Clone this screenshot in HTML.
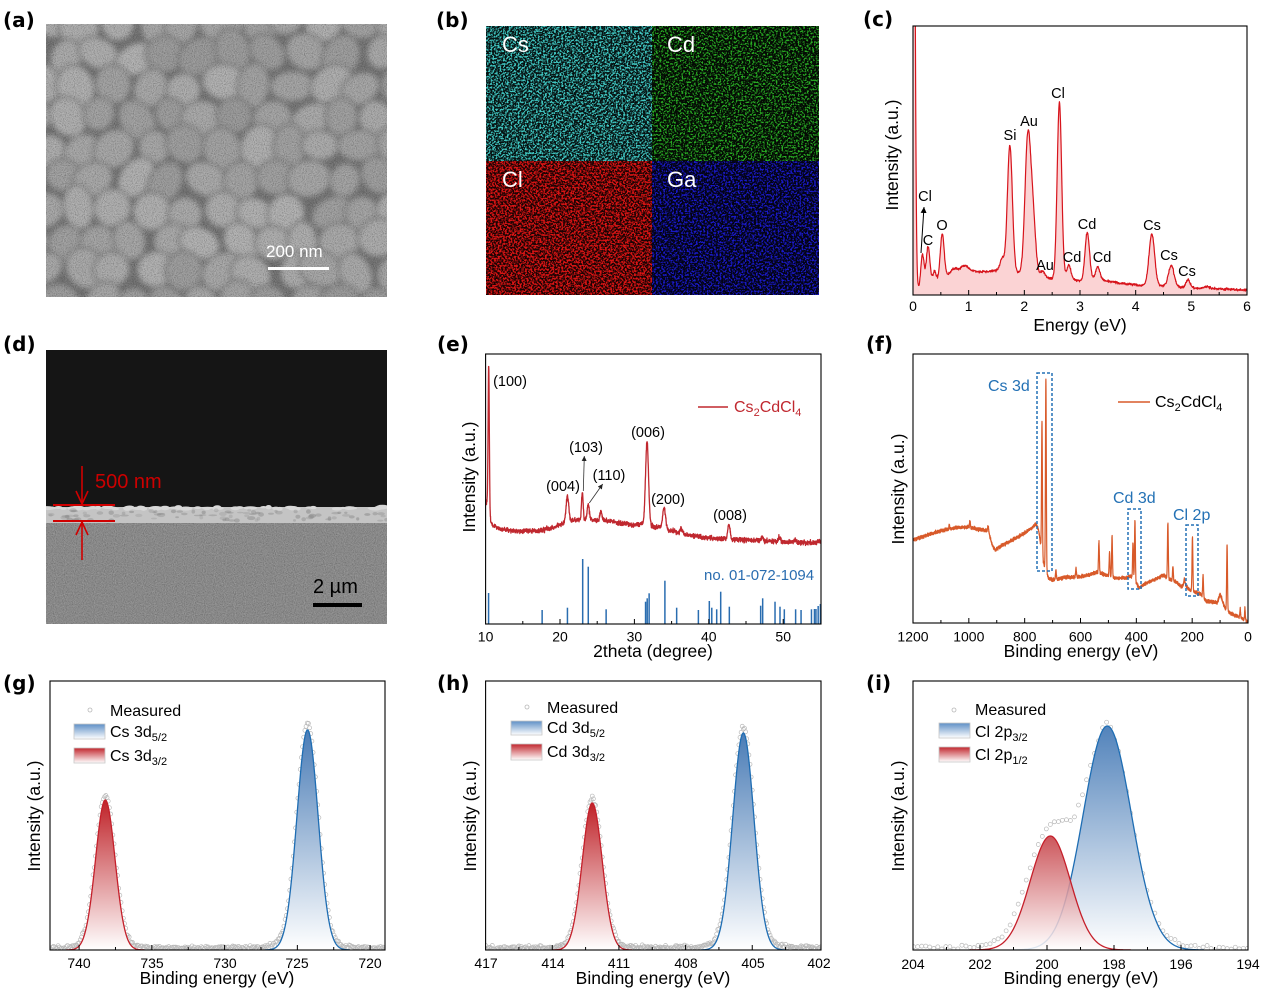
<!DOCTYPE html>
<html><head><meta charset="utf-8"><title>Cs2CdCl4 characterization</title>
<style>
html,body{margin:0;padding:0;background:#fff;width:1268px;height:994px;overflow:hidden}
svg{display:block}
text{font-family:"Liberation Sans",Arial,sans-serif;fill:#000}
.pl{font-family:"DejaVu Sans","Liberation Sans",sans-serif;font-weight:bold;font-size:20px}
.tk{font-size:14px;text-anchor:middle}
.al{font-size:17.5px;text-anchor:middle}
.pk{font-size:14.5px;text-anchor:middle}
.lg{font-size:16px}
</style></head><body>
<svg id="S" xmlns="http://www.w3.org/2000/svg" width="1268" height="994" viewBox="0 0 1268 994">
<defs>
<clipPath id="cA"><rect x="46" y="24" width="341" height="273"/></clipPath>
<clipPath id="cD"><rect x="46" y="350" width="341" height="274"/></clipPath>
<clipPath id="cC"><rect x="913" y="26" width="334" height="269"/></clipPath>
<clipPath id="cE"><rect x="485.6" y="354" width="335.4" height="270"/></clipPath>
<clipPath id="cF"><rect x="913" y="354" width="335" height="269"/></clipPath>
<clipPath id="cG"><rect x="50" y="681" width="335" height="269"/></clipPath>
<clipPath id="cH"><rect x="485.6" y="681" width="335.4" height="269"/></clipPath>
<clipPath id="cI"><rect x="913" y="681" width="335" height="269"/></clipPath>
<filter id="bl" x="-5%" y="-5%" width="110%" height="110%"><feGaussianBlur stdDeviation="2.6"/></filter>
<filter id="nz" x="0" y="0" width="1" height="1" color-interpolation-filters="sRGB"><feTurbulence type="fractalNoise" baseFrequency="0.9" numOctaves="1" seed="4"/><feColorMatrix type="matrix" values="0 0 0 0 0.1  0 0 0 0 0.1  0 0 0 0 0.1  3 0 0 0 -1.3"/></filter>
<filter id="nzw" x="0" y="0" width="1" height="1" color-interpolation-filters="sRGB"><feTurbulence type="fractalNoise" baseFrequency="0.9" numOctaves="1" seed="9"/><feColorMatrix type="matrix" values="0 0 0 0 0.95  0 0 0 0 0.95  0 0 0 0 0.95  3 0 0 0 -1.35"/></filter>
<filter id="sCs" x="0" y="0" width="1" height="1" color-interpolation-filters="sRGB"><feTurbulence type="fractalNoise" baseFrequency="0.55" numOctaves="2" seed="2"/><feColorMatrix type="matrix" values="0 0 0 0 0.25  0 0 0 0 0.78  0 0 0 0 0.76  6 0 0 0 -2.75"/></filter>
<filter id="sCd" x="0" y="0" width="1" height="1" color-interpolation-filters="sRGB"><feTurbulence type="fractalNoise" baseFrequency="0.55" numOctaves="2" seed="5"/><feColorMatrix type="matrix" values="0 0 0 0 0.16  0 0 0 0 0.68  0 0 0 0 0.14  6 0 0 0 -2.95"/></filter>
<filter id="sCl" x="0" y="0" width="1" height="1" color-interpolation-filters="sRGB"><feTurbulence type="fractalNoise" baseFrequency="0.55" numOctaves="2" seed="7"/><feColorMatrix type="matrix" values="0 0 0 0 0.86  0 0 0 0 0.08  0 0 0 0 0.08  6 0 0 0 -2.62"/></filter>
<filter id="sGa" x="0" y="0" width="1" height="1" color-interpolation-filters="sRGB"><feTurbulence type="fractalNoise" baseFrequency="0.55" numOctaves="2" seed="8"/><feColorMatrix type="matrix" values="0 0 0 0 0.1  0 0 0 0 0.1  0 0 0 0 0.8  6 0 0 0 -2.85"/></filter>
<linearGradient id="gB" gradientUnits="userSpaceOnUse" x1="0" y1="730" x2="0" y2="950"><stop offset="0" stop-color="#4a7cb6"/><stop offset="1" stop-color="#ffffff"/></linearGradient>
<linearGradient id="gR" gradientUnits="userSpaceOnUse" x1="0" y1="800" x2="0" y2="950"><stop offset="0" stop-color="#bf2228"/><stop offset="1" stop-color="#ffffff"/></linearGradient>
<linearGradient id="hB" gradientUnits="userSpaceOnUse" x1="0" y1="733" x2="0" y2="950"><stop offset="0" stop-color="#4a7cb6"/><stop offset="1" stop-color="#ffffff"/></linearGradient>
<linearGradient id="hR" gradientUnits="userSpaceOnUse" x1="0" y1="803" x2="0" y2="950"><stop offset="0" stop-color="#bf2228"/><stop offset="1" stop-color="#ffffff"/></linearGradient>
<linearGradient id="iB" gradientUnits="userSpaceOnUse" x1="0" y1="726" x2="0" y2="950"><stop offset="0" stop-color="#5283bb"/><stop offset="1" stop-color="#ffffff"/></linearGradient>
<linearGradient id="iR" gradientUnits="userSpaceOnUse" x1="0" y1="836" x2="0" y2="950"><stop offset="0" stop-color="#c3383e"/><stop offset="1" stop-color="#ffffff"/></linearGradient>
<linearGradient id="sB" x1="0" y1="0" x2="0" y2="1"><stop offset="0" stop-color="#5e8fc6"/><stop offset="1" stop-color="#ffffff"/></linearGradient>
<linearGradient id="sR" x1="0" y1="0" x2="0" y2="1"><stop offset="0" stop-color="#c1262d"/><stop offset="1" stop-color="#ffffff"/></linearGradient>
<marker id="ah" viewBox="0 0 6 6" refX="6" refY="3" markerWidth="5" markerHeight="5" orient="auto" markerUnits="userSpaceOnUse"><path d="M0,0L6,3L0,6Z" fill="#222"/></marker>
<marker id="ah2" viewBox="0 0 6 6" refX="6" refY="3" markerWidth="6" markerHeight="6" orient="auto" markerUnits="userSpaceOnUse"><path d="M0,0L6,3L0,6Z" fill="#000"/></marker>
</defs>

<!-- (a) SEM top view -->
<g clip-path="url(#cA)">
<rect x="46" y="24" width="341" height="273" fill="#6e6e6e"/>
<g id="semA" filter="url(#bl)"></g>
<rect x="46" y="24" width="341" height="273" filter="url(#nz)" opacity="0.28"/>
<rect x="46" y="24" width="341" height="273" filter="url(#nzw)" opacity="0.16"/>
</g>
<text x="266" y="257" font-size="17" style="fill:#fff">200 nm</text>
<rect x="268" y="267" width="61" height="3" fill="#fff"/>

<!-- (b) EDS maps -->
<rect x="486" y="26" width="166" height="135" fill="#061212"/>
<rect x="486" y="26" width="166" height="135" filter="url(#sCs)"/>
<rect x="652" y="26" width="167" height="135" fill="#040a04"/>
<rect x="652" y="26" width="167" height="135" filter="url(#sCd)"/>
<rect x="486" y="161" width="166" height="134" fill="#1a0303"/>
<rect x="486" y="161" width="166" height="134" filter="url(#sCl)"/>
<rect x="652" y="161" width="167" height="134" fill="#030314"/>
<rect x="652" y="161" width="167" height="134" filter="url(#sGa)"/>
<text x="502" y="52" font-size="22" style="fill:#fff">Cs</text>
<text x="667" y="52" font-size="22" style="fill:#fff">Cd</text>
<text x="502" y="187" font-size="22" style="fill:#fff">Cl</text>
<text x="667" y="187" font-size="22" style="fill:#fff">Ga</text>

<!-- (d) cross-section -->
<g clip-path="url(#cD)">
<rect x="46" y="350" width="341" height="158" fill="#151515"/>
<rect x="46" y="520" width="341" height="104" fill="#8a8a8a"/>
<rect x="46" y="520" width="341" height="104" filter="url(#nz)" opacity="0.22"/>
<rect x="46" y="520" width="341" height="104" filter="url(#nzw)" opacity="0.18"/>
<rect x="46" y="507" width="341" height="16" fill="#c4c4c4"/>
<g id="filmD"></g>
</g>
<line x1="53" y1="505" x2="115" y2="505" stroke="#d00000" stroke-width="2"/>
<line x1="53" y1="521" x2="115" y2="521" stroke="#d00000" stroke-width="2"/>
<line x1="82" y1="466" x2="82" y2="504" stroke="#d00000" stroke-width="1.6"/>
<polyline points="76,491 82,504 88,491" fill="none" stroke="#d00000" stroke-width="1.6"/>
<line x1="82" y1="522" x2="82" y2="560" stroke="#d00000" stroke-width="1.6"/>
<polyline points="76,535 82,522 88,535" fill="none" stroke="#d00000" stroke-width="1.6"/>
<text x="95" y="488" font-size="20" style="fill:#cc0000">500 nm</text>
<text x="313" y="593" font-size="20">2 µm</text>
<rect x="313" y="603" width="49" height="4" fill="#000"/>

<!-- plot contents -->
<g clip-path="url(#cC)"><g id="pC"></g></g>
<g clip-path="url(#cE)"><g id="pE"></g></g>
<g clip-path="url(#cF)"><g id="pF"></g></g>
<g clip-path="url(#cG)"><g id="pG"></g></g>
<g clip-path="url(#cH)"><g id="pH"></g></g>
<g clip-path="url(#cI)"><g id="pI"></g></g>

<!-- axes frames -->
<g fill="none" stroke="#000" stroke-width="1.1">
<rect x="913" y="26" width="334" height="269"/>
<rect x="485.6" y="354" width="335.4" height="270"/>
<rect x="913" y="354" width="335" height="269"/>
<rect x="50" y="681" width="335" height="269"/>
<rect x="485.6" y="681" width="335.4" height="269"/>
<rect x="913" y="681" width="335" height="269"/>
</g>
<g id="ticks"></g>

<!-- panel labels -->
<text class="pl" x="3" y="27">(a)</text>
<text class="pl" x="436" y="27">(b)</text>
<text class="pl" x="863" y="26">(c)</text>
<text class="pl" x="3" y="351">(d)</text>
<text class="pl" x="437" y="351">(e)</text>
<text class="pl" x="866" y="351">(f)</text>
<text class="pl" x="3" y="690">(g)</text>
<text class="pl" x="437" y="690">(h)</text>
<text class="pl" x="866" y="690">(i)</text>

<!-- (c) text -->
<text class="tk" x="913" y="311">0</text>
<text class="tk" x="968.7" y="311">1</text>
<text class="tk" x="1024.3" y="311">2</text>
<text class="tk" x="1080" y="311">3</text>
<text class="tk" x="1135.7" y="311">4</text>
<text class="tk" x="1191.3" y="311">5</text>
<text class="tk" x="1247" y="311">6</text>
<text class="al" x="1080" y="331">Energy (eV)</text>
<text class="al" transform="translate(898,155) rotate(-90)">Intensity (a.u.)</text>
<text class="pk" x="1058" y="98">Cl</text>
<text class="pk" x="1029" y="126">Au</text>
<text class="pk" x="1010" y="140">Si</text>
<text class="pk" x="925" y="201">Cl</text>
<text class="pk" x="928" y="245">C</text>
<text class="pk" x="942" y="230">O</text>
<text class="pk" x="1045" y="270">Au</text>
<text class="pk" x="1072" y="262">Cd</text>
<text class="pk" x="1087" y="229">Cd</text>
<text class="pk" x="1102" y="262">Cd</text>
<text class="pk" x="1152" y="230">Cs</text>
<text class="pk" x="1169" y="260">Cs</text>
<text class="pk" x="1187" y="276">Cs</text>
<line x1="921" y1="253" x2="924" y2="207" stroke="#000" stroke-width="1" marker-end="url(#ah2)"/>

<!-- (e) text -->
<text class="tk" x="485.6" y="641.5">10</text>
<text class="tk" x="560" y="641.5">20</text>
<text class="tk" x="634.4" y="641.5">30</text>
<text class="tk" x="708.8" y="641.5">40</text>
<text class="tk" x="783.2" y="641.5">50</text>
<text class="al" x="653" y="657">2theta (degree)</text>
<text class="al" transform="translate(475,477) rotate(-90)">Intensity (a.u.)</text>
<text class="pk" x="510" y="386">(100)</text>
<text class="pk" x="563" y="491">(004)</text>
<text class="pk" x="586" y="452">(103)</text>
<text class="pk" x="609" y="480">(110)</text>
<text class="pk" x="648" y="437">(006)</text>
<text class="pk" x="668" y="504">(200)</text>
<text class="pk" x="730" y="520">(008)</text>
<line x1="583.3" y1="491" x2="584.3" y2="456" stroke="#333" stroke-width="0.8" marker-end="url(#ah)"/>
<line x1="589.3" y1="503" x2="602.7" y2="484" stroke="#333" stroke-width="0.8" marker-end="url(#ah)"/>
<line x1="698" y1="407" x2="728" y2="407" stroke="#c0282f" stroke-width="1.5"/>
<text x="734" y="412" font-size="16" style="fill:#c0282f">Cs<tspan font-size="11" dy="4">2</tspan><tspan dy="-4">CdCl</tspan><tspan font-size="11" dy="4">4</tspan></text>
<text x="704" y="580" font-size="15" style="fill:#2a6db0">no. 01-072-1094</text>

<!-- (f) text -->
<text class="tk" x="913" y="641.5">1200</text>
<text class="tk" x="968.8" y="641.5">1000</text>
<text class="tk" x="1024.7" y="641.5">800</text>
<text class="tk" x="1080.5" y="641.5">600</text>
<text class="tk" x="1136.3" y="641.5">400</text>
<text class="tk" x="1192.2" y="641.5">200</text>
<text class="tk" x="1248" y="641.5">0</text>
<text class="al" x="1081" y="657">Binding energy (eV)</text>
<text class="al" transform="translate(904,489) rotate(-90)">Intensity (a.u.)</text>
<g fill="none" stroke="#2371b5" stroke-width="1.5" stroke-dasharray="3,2">
<rect x="1037" y="373" width="15" height="198"/>
<rect x="1128" y="509" width="13" height="80"/>
<rect x="1186" y="525" width="12" height="71"/>
</g>
<text x="988" y="391" font-size="16" style="fill:#2371b5">Cs 3d</text>
<text x="1113" y="503" font-size="16" style="fill:#2371b5">Cd 3d</text>
<text x="1173" y="520" font-size="16" style="fill:#2371b5">Cl 2p</text>
<line x1="1118" y1="402" x2="1150" y2="402" stroke="#d85a2a" stroke-width="1.5"/>
<text x="1155" y="407" font-size="16">Cs<tspan font-size="11" dy="4">2</tspan><tspan dy="-4">CdCl</tspan><tspan font-size="11" dy="4">4</tspan></text>

<!-- (g) text -->
<text class="tk" x="79" y="968">740</text>
<text class="tk" x="152" y="968">735</text>
<text class="tk" x="225" y="968">730</text>
<text class="tk" x="297" y="968">725</text>
<text class="tk" x="370" y="968">720</text>
<text class="al" x="217" y="984">Binding energy (eV)</text>
<text class="al" transform="translate(40,816) rotate(-90)">Intensity (a.u.)</text>
<circle cx="90" cy="710" r="2" fill="none" stroke="#b8b8b8" stroke-width="0.8"/>
<text class="lg" x="110" y="716">Measured</text>
<rect x="74" y="724" width="31" height="15" fill="url(#sB)" stroke="#c8c8c8" stroke-width="0.8"/>
<text class="lg" x="110" y="737">Cs 3d<tspan font-size="11" dy="4">5/2</tspan></text>
<rect x="74" y="748" width="31" height="15" fill="url(#sR)" stroke="#c8c8c8" stroke-width="0.8"/>
<text class="lg" x="110" y="761">Cs 3d<tspan font-size="11" dy="4">3/2</tspan></text>

<!-- (h) text -->
<text class="tk" x="486" y="968">417</text>
<text class="tk" x="553" y="968">414</text>
<text class="tk" x="619" y="968">411</text>
<text class="tk" x="686" y="968">408</text>
<text class="tk" x="753" y="968">405</text>
<text class="tk" x="819" y="968">402</text>
<text class="al" x="653" y="984">Binding energy (eV)</text>
<text class="al" transform="translate(476,816) rotate(-90)">Intensity (a.u.)</text>
<circle cx="527" cy="707" r="2" fill="none" stroke="#b8b8b8" stroke-width="0.8"/>
<text class="lg" x="547" y="713">Measured</text>
<rect x="511" y="721" width="31" height="14" fill="url(#sB)" stroke="#c8c8c8" stroke-width="0.8"/>
<text class="lg" x="547" y="733">Cd 3d<tspan font-size="11" dy="4">5/2</tspan></text>
<rect x="511" y="744" width="31" height="16" fill="url(#sR)" stroke="#c8c8c8" stroke-width="0.8"/>
<text class="lg" x="547" y="757">Cd 3d<tspan font-size="11" dy="4">3/2</tspan></text>

<!-- (i) text -->
<text class="tk" x="913" y="969">204</text>
<text class="tk" x="980" y="969">202</text>
<text class="tk" x="1047" y="969">200</text>
<text class="tk" x="1114" y="969">198</text>
<text class="tk" x="1181" y="969">196</text>
<text class="tk" x="1248" y="969">194</text>
<text class="al" x="1081" y="984">Binding energy (eV)</text>
<text class="al" transform="translate(904,816) rotate(-90)">Intensity (a.u.)</text>
<circle cx="954" cy="710" r="2" fill="none" stroke="#b8b8b8" stroke-width="0.8"/>
<text class="lg" x="975" y="715">Measured</text>
<rect x="939" y="723" width="31" height="15" fill="url(#sB)" stroke="#c8c8c8" stroke-width="0.8"/>
<text class="lg" x="975" y="737">Cl 2p<tspan font-size="11" dy="4">3/2</tspan></text>
<rect x="939" y="747" width="31" height="15" fill="url(#sR)" stroke="#c8c8c8" stroke-width="0.8"/>
<text class="lg" x="975" y="760">Cl 2p<tspan font-size="11" dy="4">1/2</tspan></text>
</svg>

<script>
(function(){
var NS='http://www.w3.org/2000/svg';
function el(p,tag,a){var e=document.createElementNS(NS,tag);for(var k in a)e.setAttribute(k,a[k]);p.appendChild(e);return e;}
function G(id){return document.getElementById(id);}
function rng(seed){var s=seed>>>0;return function(){s=(Math.imul(s,1664525)+1013904223)>>>0;return s/4294967296;};}
function nrm(r){return (r()+r()+r()+r()-2)*1.732;}
function interp(pts,x){if(x<=pts[0][0])return pts[0][1];for(var i=1;i<pts.length;i++){if(x<=pts[i][0]){var a=pts[i-1],b=pts[i];return a[1]+(b[1]-a[1])*(x-a[0])/(b[0]-a[0]);}}return pts[pts.length-1][1];}
function gsum(pk,x){var s=0;for(var i=0;i<pk.length;i++){var p=pk[i];var d=(x-p[0])/p[2];if(Math.abs(d)<8)s+=p[1]*Math.exp(-0.5*d*d);}return s;}

/* SEM grains */
(function(){var g=G('semA'),r=rng(11);
for(var row=-1;row<10;row++)for(var col=-1;col<11;col++){
 var cx=46+col*35+(row&1)*17+(r()-0.5)*12, cy=24+row*31+(r()-0.5)*9;
 var rx=17+r()*6, ry=15+r()*4.5, v=Math.round(150+r()*26);
 el(g,'ellipse',{cx:cx.toFixed(1),cy:cy.toFixed(1),rx:rx.toFixed(1),ry:ry.toFixed(1),transform:'rotate('+(r()*180).toFixed(0)+' '+cx.toFixed(1)+' '+cy.toFixed(1)+')',fill:'rgb('+v+','+v+','+v+')',stroke:'#767676','stroke-width':2.5});
}})();

/* film */
(function(){var g=G('filmD'),r=rng(5);
for(var i=0;i<60;i++){el(g,'ellipse',{cx:(46+r()*341).toFixed(1),cy:(507+r()*2).toFixed(1),rx:(3+r()*4).toFixed(1),ry:(1+r()*1.5).toFixed(1),fill:'#d8d8d8'});}
for(var j=0;j<90;j++){el(g,'ellipse',{cx:(46+r()*341).toFixed(1),cy:(510+r()*11).toFixed(1),rx:(1.5+r()*3).toFixed(1),ry:(0.8+r()*1.4).toFixed(1),fill:'#888888',opacity:(0.25+r()*0.3).toFixed(2)});}
})();

/* (c) EDS */
(function(){var g=G('pC'),r=rng(21);var X=function(e){return 913+e*55.67;};
var base=[[0,280],[0.1,288],[0.3,278],[0.45,280],[0.6,276],[0.8,271],[1.0,270],[1.2,272],[1.4,271],[1.55,270],[1.7,272],[1.9,273],[2.2,276],[2.5,279],[2.8,278],[3.0,281],[3.3,279],[3.5,281],[3.7,283],[4.0,285],[4.5,286],[5.0,288],[5.5,289],[6.0,290]];
var pk=[[0.01,600,0.025],[0.17,30,0.028],[0.27,33,0.03],[0.39,8,0.025],[0.525,44,0.035],[0.73,4,0.05],[0.92,5,0.06],[1.6,12,0.035],[1.74,127,0.045],[2.06,131,0.05],[2.15,60,0.05],[2.33,6,0.04],[2.63,176,0.04],[2.8,13,0.035],[3.13,48,0.04],[3.32,12,0.04],[4.29,52,0.05],[4.64,21,0.05],[4.94,8,0.04],[5.28,2,0.05]];
var d='';for(var i=0;i<=1200;i++){var e=i*0.005;var y=interp(base,e)-gsum(pk,e)+nrm(r)*0.6;if(y<0)y=0;d+=(i?'L':'M')+X(e).toFixed(2)+','+y.toFixed(2);}
el(g,'path',{d:d+'L1247,296L913,296Z',fill:'#fbd3d4',stroke:'none'});
el(g,'path',{d:d,fill:'none',stroke:'#d7141c','stroke-width':1.2,'stroke-linejoin':'round'});
})();

/* (e) XRD */
(function(){var g=G('pE'),r=rng(33);var X=function(t){return 485.6+(t-10)*7.44;};
var base=[[10,500],[10.3,505],[10.7,522],[11,526],[12,529],[14,531],[17,531],[19,528],[20.5,523],[22,520],[26,520],[28,523],[30,525],[31,524],[33,527],[35,531],[37,535],[40,538],[45,540],[50,542],[54,543],[55,541]];
var pk=[[10.42,145,0.08],[21,26,0.18],[23,28,0.11],[23.8,16,0.14],[25.5,9,0.12],[31.7,84,0.2],[34,21,0.2],[36.3,5,0.15],[42.7,15,0.15],[47.2,4,0.15],[49.5,5,0.15],[51.6,3,0.15]];
var d='';for(var i=0;i<=2250;i++){var t=10+i*0.02;var y=interp(base,t)-gsum(pk,t)+nrm(r)*1.1;d+=(i?'L':'M')+X(t).toFixed(2)+','+y.toFixed(2);}
el(g,'path',{d:d,fill:'none',stroke:'#c0282f','stroke-width':1.3,'stroke-linejoin':'round'});
var bars=[[10.4,593],[17.6,610],[21.0,607.7],[23.05,559],[23.8,566.7],[26.2,609.3],[31.5,601.7],[31.72,598.3],[31.98,593.3],[34.1,580.7],[35.68,607.7],[38.6,610],[40.07,601],[40.4,607.7],[41.06,609.3],[41.6,591.7],[42.76,606.7],[46.97,605.7],[47.24,598.3],[48.9,601.7],[49.57,606.7],[50.15,609.3],[51.67,609.3],[52.4,610],[53.8,609.3],[54.2,609],[54.4,609],[54.7,606],[55.0,604]];
for(var k=0;k<bars.length;k++){var x=X(bars[k][0]).toFixed(2);el(g,'line',{x1:x,y1:bars[k][1],x2:x,y2:624,stroke:'#2a6db0','stroke-width':1.5});}
})();

/* (f) XPS survey */
(function(){var g=G('pF'),r=rng(44);var X=function(E){return 913+(1200-E)*0.27917;};
var base=[[0,623],[10,620],[30,617],[50,615],[80,610],[90,602],[100,594],[110,603],[150,601],[170,594],[180,593],[210,590],[225,584],[240,586],[260,582],[290,578],[300,575],[370,584],[390,588],[400,583],[420,576],[440,578],[480,578],[510,575],[540,572],[560,574],[600,577],[650,577],[700,580],[715,578],[735,560],[750,530],[760,524],[770,527],[800,533],[850,541],[880,545],[905,550],[915,546],[930,531],[950,530],[1000,527],[1050,528],[1100,531],[1150,535],[1200,540]];
var pk=[[1070,4,1.5],[996,6,1.5],[931,5,1.5],[738,132,1.5],[724,191,1.5],[688,9,1.5],[616,9,1.5],[534,31,1.5],[496,24,1.5],[487,41,1.5],[412,36,1.5],[405,61,1.5],[287,56,1.5],[269,14,1.5],[228,6,1.5],[199,54,1.5],[161,21,1.5],[75,66,1.5],[28,9,1.2],[11,12,1.2]];
var d='';var n=4800;for(var i=0;i<=n;i++){var E=1200-i*0.25;var y=interp(base,E)-gsum(pk,E)+nrm(r)*0.8;d+=(i?'L':'M')+X(E).toFixed(2)+','+y.toFixed(2);}
el(g,'path',{d:d,fill:'none',stroke:'#d85a2a','stroke-width':1.2,'stroke-linejoin':'round'});
})();

/* XPS high-res */
function xps(gid,X,yb,E0,E1,step,pk,seed,meas){
 var g=G(gid),r=rng(seed);
 for(var E=E0;E<=E1+1e-9;E+=step){
  var s;
  if(meas){s=meas(E);}else{s=0;for(var i=0;i<pk.length;i++){var p=pk[i];var dd=(E-p[0])/p[2];s+=p[1]*(0.97*Math.exp(-0.5*dd*dd)+0.05/(1+(dd/1.8)*(dd/1.8)));}}
  var y=yb-1.5-s+nrm(r)*1.0;
  el(g,'circle',{cx:X(E).toFixed(2),cy:y.toFixed(2),r:2,fill:'none',stroke:'#b8b8b8','stroke-width':0.7});
 }
 for(var j=0;j<pk.length;j++){var q=pk[j];var lo=q[0]-4*q[2],hi=q[0]+4*q[2];var d='';var first=true;
  for(var e=lo;e<=hi+1e-9;e+=q[2]/25){var yy=yb-q[1]*Math.exp(-0.5*((e-q[0])/q[2])*((e-q[0])/q[2]));d+=(first?'M':'L')+X(e).toFixed(2)+','+yy.toFixed(2);first=false;}
  el(g,'path',{d:d+'L'+X(hi).toFixed(2)+','+yb+'L'+X(lo).toFixed(2)+','+yb+'Z',fill:'url(#'+q[3]+')','fill-opacity':(q[5]||1),stroke:'none'});
  el(g,'path',{d:d,fill:'none',stroke:q[4],'stroke-width':1.3});
 }
}
xps('pG',function(E){return 50+(742-E)*14.55;},950,718.8,742.2,0.08,[[724.3,220,0.73,'gB','#1e6db3'],[738.2,150,0.67,'gR','#c51f2a']],61);
xps('pH',function(E){return 485.6+(417-E)*22.22;},950,401.8,417.2,0.05,[[405.4,217,0.48,'hB','#1e6db3'],[412.2,147,0.45,'hR','#c51f2a']],62);
var mI=[[193.9,0],[195.5,0.5],[196,3],[196.5,14],[197,54],[197.3,98],[197.6,154],[197.9,203],[198.1,221],[198.24,227],[198.37,219],[198.5,205],[198.72,181],[198.82,167],[199.04,144],[199.13,136],[199.26,129],[199.4,127],[199.56,128],[199.73,127.5],[199.86,125],[199.96,122.5],[200.06,117],[200.3,100],[200.5,82],[200.7,60],[200.9,40],[201.1,24],[201.4,10],[201.7,4],[202.2,1],[204.2,0]];
xps('pI',function(E){return 913+(204-E)*33.5;},950,193.9,204.1,0.12,[[198.2,224,0.72,'iB','#1e6db3'],[199.9,114,0.6,'iR','#c51f2a',0.85]],63,function(E){return interp(mI,E);});

/* ticks */
var tg=G('ticks');
function ticks(X,yb,arr,len){for(var i=0;i<arr.length;i++){var x=X(arr[i]).toFixed(2);el(tg,'line',{x1:x,y1:yb,x2:x,y2:yb-len,stroke:'#000','stroke-width':1});}}
function rangeArr(a,b,st){var o=[];for(var v=a;v<=b+1e-9;v+=st)o.push(v);return o;}
var XC=function(e){return 913+e*55.67;};
ticks(XC,295,rangeArr(1,5,1),5);ticks(XC,295,rangeArr(0.5,5.5,1),3);
var XE=function(t){return 485.6+(t-10)*7.44;};
ticks(XE,624,[20,30,40,50],5);ticks(XE,624,[15,25,35,45],3);
var XF=function(E){return 913+(1200-E)*0.27917;};
ticks(XF,623,[1000,800,600,400,200],5);ticks(XF,623,[1100,900,700,500,300,100],3);
var XG=function(E){return 50+(742-E)*14.55;};
ticks(XG,950,[740,735,730,725,720],5);ticks(XG,950,[737.5,732.5,727.5,722.5],3);
var XH=function(E){return 485.6+(417-E)*22.22;};
ticks(XH,950,[414,411,408,405],5);ticks(XH,950,[415.5,412.5,409.5,406.5,403.5],3);
var XI=function(E){return 913+(204-E)*33.5;};
ticks(XI,950,[202,200,198,196],5);ticks(XI,950,[203,201,199,197,195],3);
})();
</script>
</body></html>
